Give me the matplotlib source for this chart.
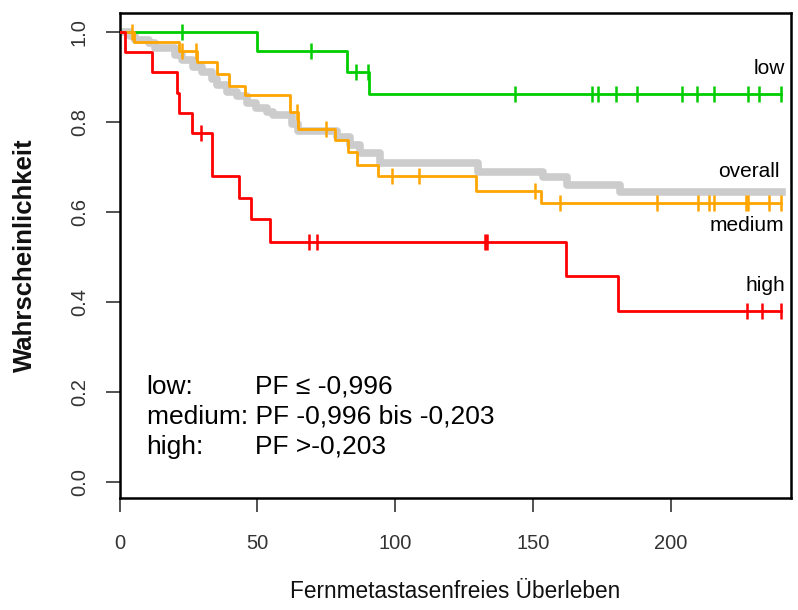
import numpy as np
import matplotlib
matplotlib.use('Agg')
import matplotlib.pyplot as plt

plt.rcParams['font.family'] = ['Liberation Sans', 'DejaVu Sans']

#### 数据 (Zeit, Überlebenswahrscheinlichkeit) ####
overall_t = [0, 3.8, 5.6, 10.8, 13.0, 20.1, 22.6, 26.5, 30.0, 33.4, 35.5, 38.9, 42.5, 46.1,
             49.5, 53.4, 55.8, 62.5, 64.9, 78.8, 83.6, 87.2, 94.5, 130.1, 153.7, 162.2, 181.5]
overall_s = [1.0, 0.99, 0.982, 0.974, 0.965, 0.948, 0.937, 0.922, 0.91, 0.896, 0.882, 0.867, 0.857, 0.841,
             0.830, 0.822, 0.815, 0.796, 0.780, 0.767, 0.748, 0.730, 0.708, 0.689, 0.678, 0.659, 0.644]
overall_end = 240.5

low_t = [0, 49.8, 82.6, 90.6]
low_s = [1.0, 0.957, 0.911, 0.862]
low_cens = [22.7, 69.5, 85.7, 90.0, 143.5, 171.5, 173.7, 180.0, 187.8, 203.9,
            209.6, 215.7, 227.9, 232.1, 239.9]
low_end = 240

med_t = [0, 5.3, 21.5, 28.2, 35.5, 39.9, 45.5, 61.8, 64.9, 78.2, 83.0, 86.0, 93.6, 129.3, 152.9]
med_s = [1.0, 0.978, 0.957, 0.932, 0.907, 0.880, 0.859, 0.822, 0.785, 0.759, 0.733, 0.705, 0.679,
         0.646, 0.620]
med_cens = [4.4, 22.6, 27.7, 64.3, 74.9, 98.7, 108.7, 150.7, 159.8, 195.1, 209.7, 213.8,
            215.7, 227.1, 228.0, 235.7, 239.9]
med_end = 240

high_t = [0, 2.0, 11.7, 20.7, 21.6, 26.2, 33.4, 43.5, 47.7, 54.6, 162.0, 180.9]
high_s = [1.0, 0.955, 0.910, 0.863, 0.819, 0.774, 0.679, 0.630, 0.583, 0.533, 0.457, 0.380]
high_cens = [29.4, 68.7, 71.7, 132.5, 133.3, 227.7, 232.9, 239.9]
high_end = 240

legend_rows = [('low:', 'PF ≤ -0,996'),
               ('medium: PF -0,996 bis -0,203', ''),
               ('high:', 'PF >-0,203')]


def km_line(ax, t, s, end, color, lw, cens=None, z=2):
    tt = list(t) + [end]
    ss = list(s) + [s[-1]]
    ax.step(tt, ss, where='post', color=color, lw=lw, zorder=z)
    if cens:
        idx = np.searchsorted(t, cens, side='right') - 1
        ax.plot(cens, np.array(s)[idx], ls='none', marker='|', color=color,
                markersize=12, mew=1.8, zorder=z)


fig = plt.figure(figsize=(7.98, 6.10), dpi=100)
ax = fig.add_axes([119.5/798, (610-498)/610, (791-119.5)/798, (498-13.3)/610])

km_line(ax, overall_t, overall_s, overall_end, '#CCCCCC', 5.5, z=1)
km_line(ax, low_t, low_s, low_end, '#00CD00', 2.0, low_cens, z=2)
km_line(ax, med_t, med_s, med_end, '#FFA500', 2.0, med_cens, z=3)
km_line(ax, high_t, high_s, high_end, '#FF0000', 2.0, high_cens, z=4)

ax.set_xlim(0, 243.6)
ax.set_ylim(-0.036, 1.041)
ax.set_xticks([0, 50, 100, 150, 200])
ax.set_yticks([0.0, 0.2, 0.4, 0.6, 0.8, 1.0])
ax.set_yticklabels(['0.0', '0.2', '0.4', '0.6', '0.8', '1.0'], rotation=90, va='center')
ax.tick_params(axis='both', length=10, width=1.1, labelsize=14.5, color='#222222',
               labelcolor='#333333')
ax.tick_params(axis='x', pad=16)
ax.tick_params(axis='y', pad=12)
for sp in ax.spines.values():
    sp.set_linewidth(1.8)

ax.set_xlabel('Fernmetastasenfreies Überleben', fontsize=16.3, color='#111111')
ax.xaxis.set_label_coords(0.5, -0.17)
ax.set_ylabel('Wahrscheinlichkeit', fontsize=18.5, fontweight='bold', color='#111111')
ax.yaxis.set_label_coords(-0.123, 0.5)

## Kurvenbeschriftung ##
ax.text(241.4, 0.918, 'low', ha='right', va='center', fontsize=15)
ax.text(239.5, 0.690, 'overall', ha='right', va='center', fontsize=15)
ax.text(241.0, 0.570, 'medium', ha='right', va='center', fontsize=15)
ax.text(241.4, 0.437, 'high', ha='right', va='center', fontsize=15)

for i, (a, b) in enumerate(legend_rows):
    yy = 0.211 - i*0.0667
    ax.text(9.8, yy, a, ha='left', va='center', fontsize=19)
    if b:
        ax.text(49.3, yy, b, ha='left', va='center', fontsize=19)

plt.savefig('out.png', dpi=100)
